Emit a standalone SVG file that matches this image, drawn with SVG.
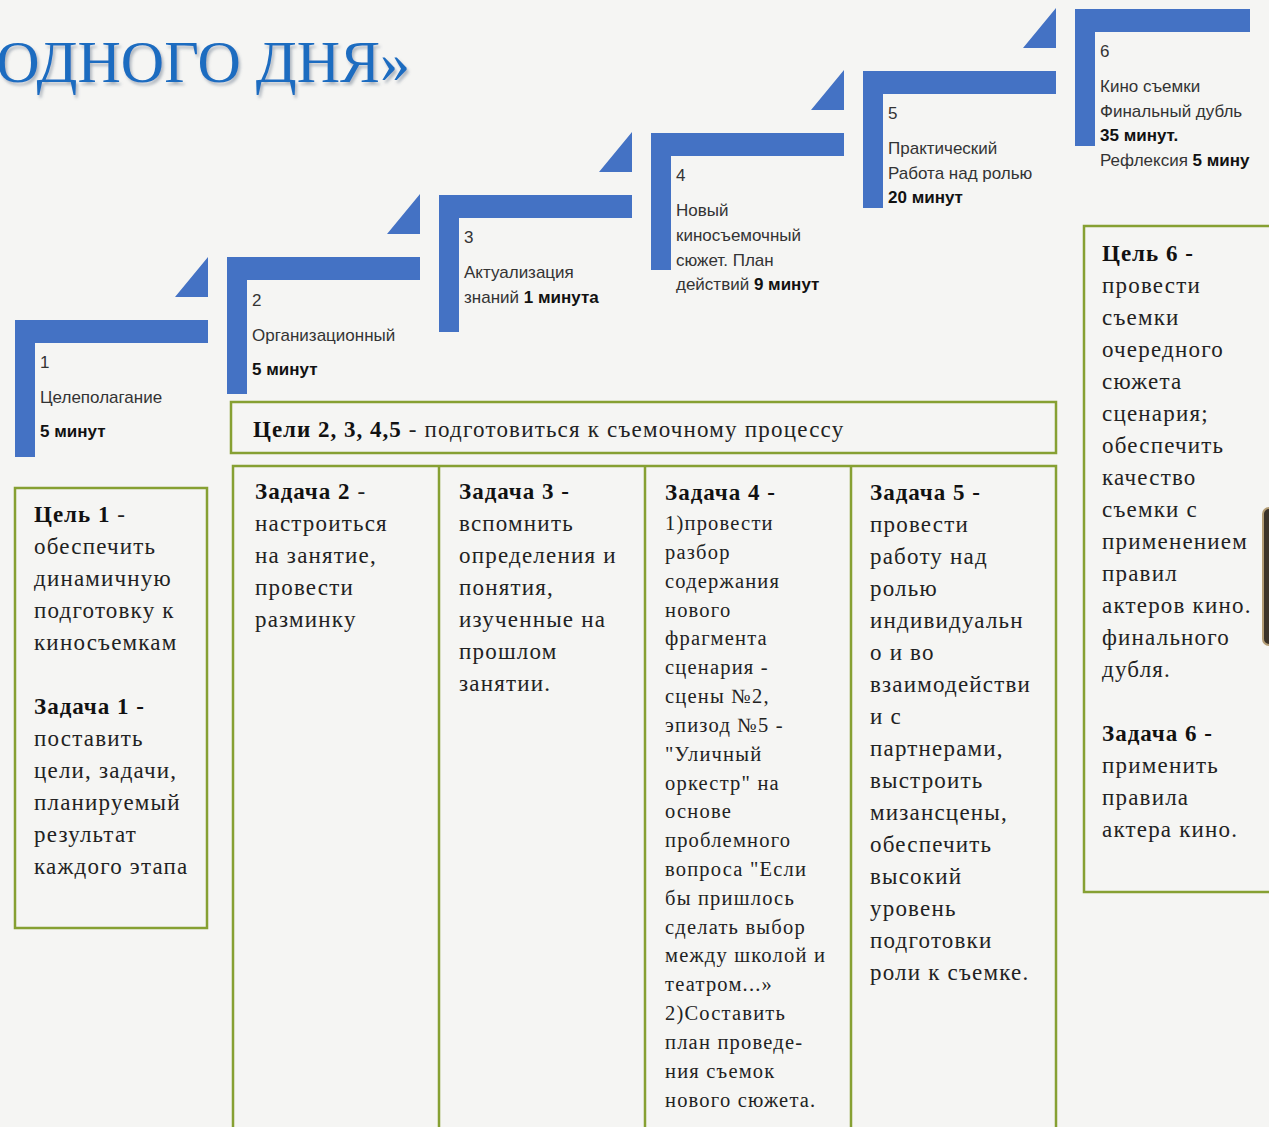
<svg xmlns="http://www.w3.org/2000/svg" xmlns:xlink="http://www.w3.org/1999/xlink" width="1269" height="1127" viewBox="0 0 1269 1127">
<style>
.bg{fill:#f5f5f3}
.step{fill:#4472c4}
.st{font-family:"Liberation Sans",Arial,sans-serif;font-size:17px;fill:#333}
.stb{font-weight:bold;fill:#111}
.box{fill:none;stroke:#86a032;stroke-width:2.5}
.tx{font-family:"Liberation Serif","Times New Roman",serif;font-size:23px;letter-spacing:1.2px;fill:#222}
.tx4{font-family:"Liberation Serif","Times New Roman",serif;font-size:20.5px;letter-spacing:1.2px;fill:#222}
.b{font-weight:bold;fill:#111;letter-spacing:1px}
.title{font-family:"Liberation Serif","Times New Roman",serif;font-size:60px;fill:#1f6cc0}
</style>
<defs>
<path id="stepL" d="M0,0 H193 V23 H20 V137 H0 Z M193,-63 V-23 H160 Z"/>
<clipPath id="clipR"><rect x="0" y="0" width="1250" height="1127"/></clipPath>
<filter id="tshadow" x="-10%" y="-20%" width="120%" height="150%">
<feDropShadow dx="2" dy="3" stdDeviation="1.5" flood-color="#5a6a80" flood-opacity="0.45"/>
</filter>
</defs>
<rect class="bg" x="0" y="0" width="1269" height="1127"/>

<g id="title">
<text class="title" x="410" y="82" text-anchor="end" filter="url(#tshadow)">ОДНОГО ДНЯ»</text>
</g>

<g id="connectors"></g>

<g id="step1">
<use xlink:href="#stepL" class="step" transform="translate(15,320)"/>
<text class="st" x="40" y="368">1</text>
<text class="st" x="40" y="403">Целеполагание</text>
<text class="st stb" x="40" y="437">5 минут</text>
</g>
<g id="step2">
<use xlink:href="#stepL" class="step" transform="translate(227,257)"/>
<text class="st" x="252" y="306">2</text>
<text class="st" x="252" y="341">Организационный</text>
<text class="st stb" x="252" y="375">5 минут</text>
</g>
<g id="step3">
<use xlink:href="#stepL" class="step" transform="translate(439,195)"/>
<text class="st" x="464" y="243">3</text>
<text class="st" x="464" y="278">Актуализация</text>
<text class="st" x="464" y="303">знаний <tspan class="stb">1 минута</tspan></text>
</g>
<g id="step4">
<use xlink:href="#stepL" class="step" transform="translate(651,133)"/>
<text class="st" x="676" y="181">4</text>
<text class="st" x="676" y="216">Новый</text>
<text class="st" x="676" y="241">киносъемочный</text>
<text class="st" x="676" y="266">сюжет. План</text>
<text class="st" x="676" y="290">действий <tspan class="stb">9 минут</tspan></text>
</g>
<g id="step5">
<use xlink:href="#stepL" class="step" transform="translate(863,71)"/>
<text class="st" x="888" y="119">5</text>
<text class="st" x="888" y="154">Практический</text>
<text class="st" x="888" y="179">Работа над ролью</text>
<text class="st stb" x="888" y="203">20 минут</text>
</g>
<g id="step6">
<path class="step" d="M1075,9 H1250 V32 H1095 V146 H1075 Z"/>
<text class="st" x="1100" y="57">6</text>
<text class="st" x="1100" y="92">Кино съемки</text>
<text class="st" x="1100" y="117">Финальный дубль</text>
<text class="st stb" x="1100" y="141">35 минут.</text>
<text class="st" x="1100" y="166" clip-path="url(#clipR)">Рефлексия <tspan class="stb">5 минут</tspan></text>
</g>

<g id="goal1">
<rect class="box" x="15" y="488" width="192" height="440"/>
<text class="tx" x="34">
<tspan x="34" y="522" class="b">Цель 1</tspan><tspan> -</tspan>
<tspan x="34" y="554">обеспечить</tspan>
<tspan x="34" y="586">динамичную</tspan>
<tspan x="34" y="618">подготовку к</tspan>
<tspan x="34" y="650">киносъемкам</tspan>
<tspan x="34" y="714" class="b">Задача 1 -</tspan>
<tspan x="34" y="746">поставить</tspan>
<tspan x="34" y="778">цели, задачи,</tspan>
<tspan x="34" y="810">планируемый</tspan>
<tspan x="34" y="842">результат</tspan>
<tspan x="34" y="874">каждого этапа</tspan>
</text>
</g>

<g id="goals2345">
<rect class="box" x="231" y="402" width="825" height="51"/>
<text class="tx" x="253" y="437"><tspan class="b">Цели 2, 3, 4,5</tspan> - подготовиться к съемочному процессу</text>
</g>

<g id="tasksTable">
<rect class="box" x="233" y="466" width="823" height="680"/>
<line class="box" x1="439" y1="466" x2="439" y2="1140"/>
<line class="box" x1="645" y1="466" x2="645" y2="1140"/>
<line class="box" x1="851" y1="466" x2="851" y2="1140"/>
</g>

<g id="task2">
<text class="tx">
<tspan x="255" y="499" class="b">Задача 2</tspan><tspan> -</tspan>
<tspan x="255" y="531">настроиться</tspan>
<tspan x="255" y="563">на занятие,</tspan>
<tspan x="255" y="595">провести</tspan>
<tspan x="255" y="627">разминку</tspan>
</text>
</g>

<g id="task3">
<text class="tx">
<tspan x="459" y="499" class="b">Задача 3 -</tspan>
<tspan x="459" y="531">вспомнить</tspan>
<tspan x="459" y="563">определения и</tspan>
<tspan x="459" y="595">понятия,</tspan>
<tspan x="459" y="627">изученные на</tspan>
<tspan x="459" y="659">прошлом</tspan>
<tspan x="459" y="691">занятии.</tspan>
</text>
</g>

<g id="task4">
<text class="tx b" x="665" y="500">Задача 4 -</text>
<text class="tx4">
<tspan x="665" y="530">1)провести</tspan>
<tspan x="665" y="559">разбор</tspan>
<tspan x="665" y="588">содержания</tspan>
<tspan x="665" y="617">нового</tspan>
<tspan x="665" y="645">фрагмента</tspan>
<tspan x="665" y="674">сценария -</tspan>
<tspan x="665" y="703">сцены №2,</tspan>
<tspan x="665" y="732">эпизод №5 -</tspan>
<tspan x="665" y="761">"Уличный</tspan>
<tspan x="665" y="790">оркестр" на</tspan>
<tspan x="665" y="818">основе</tspan>
<tspan x="665" y="847">проблемного</tspan>
<tspan x="665" y="876">вопроса "Если</tspan>
<tspan x="665" y="905">бы пришлось</tspan>
<tspan x="665" y="934">сделать выбор</tspan>
<tspan x="665" y="962">между школой и</tspan>
<tspan x="665" y="991">театром...»</tspan>
<tspan x="665" y="1020">2)Составить</tspan>
<tspan x="665" y="1049">план проведе-</tspan>
<tspan x="665" y="1078">ния съемок</tspan>
<tspan x="665" y="1107">нового сюжета.</tspan>
</text>
</g>

<g id="task5">
<text class="tx">
<tspan x="870" y="500" class="b">Задача 5 -</tspan>
<tspan x="870" y="532">провести</tspan>
<tspan x="870" y="564">работу над</tspan>
<tspan x="870" y="596">ролью</tspan>
<tspan x="870" y="628">индивидуальн</tspan>
<tspan x="870" y="660">о и во</tspan>
<tspan x="870" y="692">взаимодействи</tspan>
<tspan x="870" y="724">и с</tspan>
<tspan x="870" y="756">партнерами,</tspan>
<tspan x="870" y="788">выстроить</tspan>
<tspan x="870" y="820">мизансцены,</tspan>
<tspan x="870" y="852">обеспечить</tspan>
<tspan x="870" y="884">высокий</tspan>
<tspan x="870" y="916">уровень</tspan>
<tspan x="870" y="948">подготовки</tspan>
<tspan x="870" y="980">роли к съемке.</tspan>
</text>
</g>

<g id="goal6">
<rect class="box" x="1084" y="226" width="200" height="666"/>
<text class="tx">
<tspan x="1102" y="261" class="b">Цель 6 -</tspan>
<tspan x="1102" y="293">провести</tspan>
<tspan x="1102" y="325">съемки</tspan>
<tspan x="1102" y="357">очередного</tspan>
<tspan x="1102" y="389">сюжета</tspan>
<tspan x="1102" y="421">сценария;</tspan>
<tspan x="1102" y="453">обеспечить</tspan>
<tspan x="1102" y="485">качество</tspan>
<tspan x="1102" y="517">съемки с</tspan>
<tspan x="1102" y="549">применением</tspan>
<tspan x="1102" y="581">правил</tspan>
<tspan x="1102" y="613">актеров кино.</tspan>
<tspan x="1102" y="645">финального</tspan>
<tspan x="1102" y="677">дубля.</tspan>
<tspan x="1102" y="741" class="b">Задача 6 -</tspan>
<tspan x="1102" y="773">применить</tspan>
<tspan x="1102" y="805">правила</tspan>
<tspan x="1102" y="837">актера кино.</tspan>
</text>
</g>

<g id="edgeObject">
<rect x="1263" y="508" width="20" height="137" rx="6" fill="#3b3329" stroke="#b39c74" stroke-width="2"/>
</g>
</svg>
